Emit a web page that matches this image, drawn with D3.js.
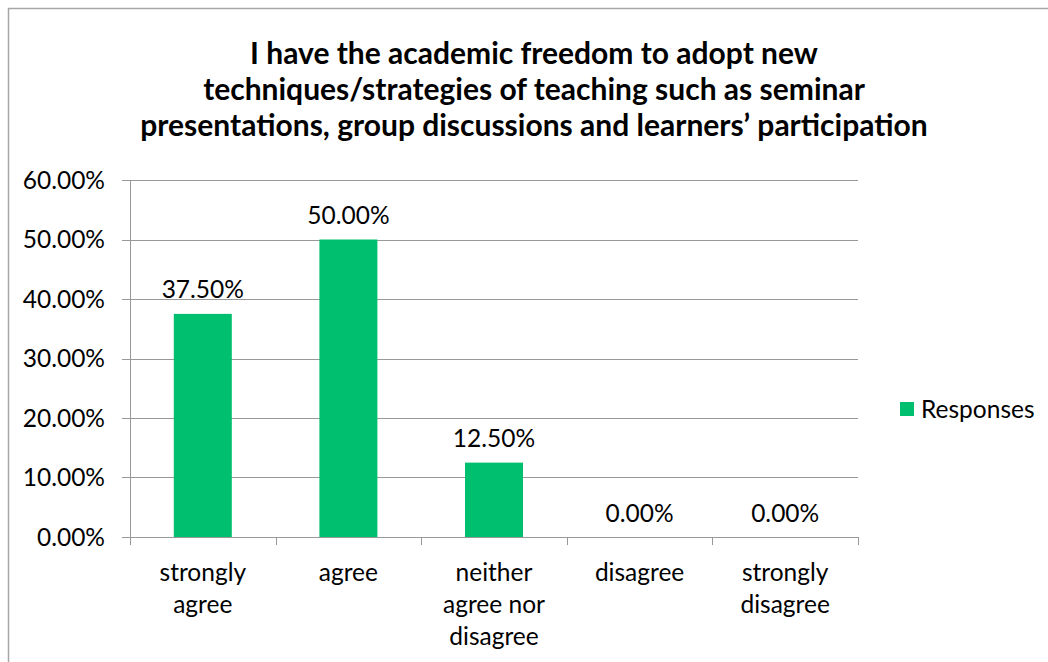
<!DOCTYPE html>
<html><head><meta charset="utf-8">
<script src="https://cdn.jsdelivr.net/npm/d3@7"></script>
<style>body{margin:0;background:#fff}svg{display:block}</style>
</head><body>
<script>
const categories = [["strongly","agree"],["agree"],["neither","agree nor","disagree"],["disagree"],["strongly","disagree"]];
const values = [0.375, 0.50, 0.125, 0, 0];
const tickValues = [0,0.1,0.2,0.3,0.4,0.5,0.6];
const titleLines = ["I have the academic freedom to adopt new","techniques/strategies of teaching such as seminar","presentations, group discussions and learners\u2019 participation"];
const seriesName = "Responses";

const W=1048,H=662;
const font="Lato, 'Open Sans', sans-serif";
const fs=24.5;
const svg=d3.select("body").append("svg").attr("width",W).attr("height",H);
svg.append("rect").attr("x",8.5).attr("y",8.5).attr("width",W+20).attr("height",H+20).attr("fill","none").attr("stroke","#a6a6a6").attr("stroke-width",1.5);

const x0=130,x1=858,yTop=180,yBot=537;
const x=d3.scaleBand().domain(d3.range(categories.length)).range([x0,x1]).paddingInner(0).paddingOuter(0);
const y=d3.scaleLinear().domain([0,0.6]).range([yBot,yTop]);

// title
svg.append("g").selectAll("text").data(titleLines).join("text")
 .attr("x",534).attr("y",(d,i)=>64+i*36).attr("text-anchor","middle")
 .attr("font-family",font).attr("font-weight","bold").attr("font-size",30).attr("fill","#000").text(d=>d);

// gridlines
svg.append("g").selectAll("line").data(tickValues).join("line")
 .attr("x1",x0-8).attr("x2",x1).attr("y1",d=>Math.round(y(d))+0.5).attr("y2",d=>Math.round(y(d))+0.5)
 .attr("stroke","#999").attr("stroke-width",1);

// y axis
svg.append("line").attr("x1",x0+0.5).attr("x2",x0+0.5).attr("y1",yTop).attr("y2",yBot+0.5).attr("stroke","#999");
svg.append("g").selectAll("text").data(tickValues).join("text")
 .attr("x",105).attr("y",d=>y(d)).attr("dy","0.35em").attr("text-anchor","end")
 .attr("font-family",font).attr("font-size",fs).attr("fill","#000").text(d=>d3.format(".2%")(d));

// x ticks
const bounds=d3.range(categories.length+1).map(i=>i<categories.length?x(i):x1);
svg.append("g").selectAll("line").data(bounds).join("line")
 .attr("x1",d=>Math.round(d)+0.5).attr("x2",d=>Math.round(d)+0.5).attr("y1",yBot).attr("y2",yBot+8).attr("stroke","#999");

// bars
const bw=58;
svg.append("g").selectAll("rect").data(values).join("rect")
 .attr("x",(d,i)=>x(i)+x.bandwidth()/2-bw/2).attr("width",bw)
 .attr("y",d=>y(d)).attr("height",d=>yBot-y(d)).attr("fill","#00BF6F");

// data labels
svg.append("g").selectAll("text").data(values).join("text")
 .attr("x",(d,i)=>x(i)+x.bandwidth()/2).attr("y",d=>y(d)-24).attr("dy","0.35em").attr("text-anchor","middle")
 .attr("font-family",font).attr("font-size",fs).attr("fill","#000").text(d=>d3.format(".2%")(d));

// category labels
const cg=svg.append("g");
categories.forEach((lines,i)=>{
  cg.append("text").attr("text-anchor","middle").attr("font-family",font).attr("font-size",fs).attr("fill","#000")
   .selectAll("tspan").data(lines).join("tspan")
   .attr("x",x(i)+x.bandwidth()/2).attr("y",(d,j)=>581+j*32).text(d=>d);
});

// legend
svg.append("rect").attr("x",900).attr("y",402).attr("width",14).attr("height",14).attr("fill","#00BF6F");
svg.append("text").attr("x",921).attr("y",409).attr("dy","0.35em").attr("font-family",font).attr("font-size",fs).attr("fill","#000").text(seriesName);
</script>
</body></html>
